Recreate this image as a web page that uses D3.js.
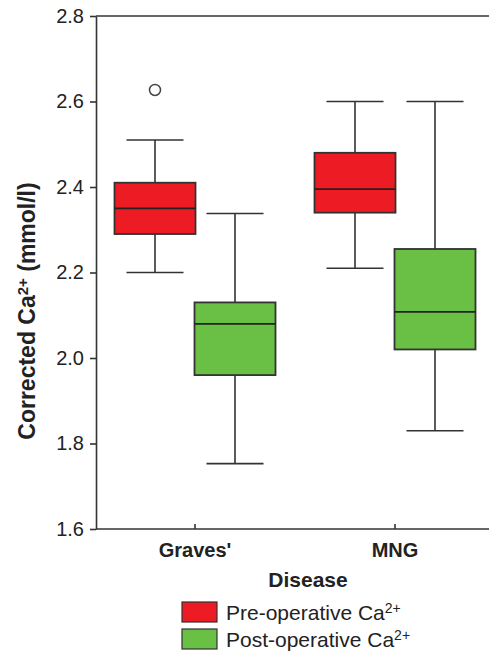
<!DOCTYPE html>
<html>
<head>
<meta charset="utf-8">
<script src="https://cdn.jsdelivr.net/npm/d3@7"></script>
<style>
  body { margin: 0; background: #fff; }
  text { font-family: "Liberation Sans", Arial, sans-serif; fill: #222; }
  .axis path, .axis line { stroke: #333; stroke-width: 1.6; }
  .whisker { stroke: #333; stroke-width: 1.6; }
  .box { stroke: #333; stroke-width: 1.8; }
  .median { stroke: #222; stroke-width: 1.8; }
</style>
</head>
<body>
<div id="chart"></div>
<script>
var w = 489;
var h = 655;

// data
var diseases = ["Graves'", "MNG"];
var groups = ["Pre-operative", "Post-operative"];
var groupColors = ["#ed1c24", "#6abf45"];
var yTicks = [1.6, 1.8, 2.0, 2.2, 2.4, 2.6, 2.8];

var preStats = [
  {low: 2.20, q1: 2.29, median: 2.35, q3: 2.41, high: 2.51},
  {low: 2.21, q1: 2.34, median: 2.395, q3: 2.48, high: 2.60}
];
var postStats = [
  {low: 1.753, q1: 1.96, median: 2.08, q3: 2.13, high: 2.338},
  {low: 1.83, q1: 2.02, median: 2.108, q3: 2.255, high: 2.60}
];
var outliers = [{disease: "Graves'", group: 0, value: 2.627}];

var plotLeft = 96, plotRight = 520, plotTop = 16, plotBottom = 529;

var svg = d3.select("#chart")
  .append("svg")
  .attr("width", w)
  .attr("height", h);

var yScale = d3.scaleLinear()
  .domain([1.6, 2.8])
  .range([plotBottom, plotTop]);

var xScale = d3.scaleBand()
  .domain(diseases)
  .range([95, 495]);

var groupScale = d3.scaleBand()
  .domain([0, 1])
  .range([20, 180]);

// top frame line
svg.append("line")
  .attr("x1", plotLeft).attr("x2", plotRight)
  .attr("y1", yScale(2.8)).attr("y2", yScale(2.8))
  .attr("stroke", "#333").attr("stroke-width", 1.6);

var yAxis = d3.axisLeft(yScale)
  .tickValues(yTicks)
  .tickFormat(d3.format(".1f"))
  .tickSize(6)
  .tickSizeOuter(0)
  .tickPadding(6);

var yG = svg.append("g")
  .attr("class", "axis")
  .attr("transform", "translate(" + plotLeft + ",0)")
  .call(yAxis);
yG.selectAll("text").style("font-size", "20px");

var xAxis = d3.axisBottom(xScale)
  .tickSize(5)
  .tickSizeOuter(0)
  .tickPadding(10);

var xG = svg.append("g")
  .attr("class", "axis")
  .attr("transform", "translate(0," + plotBottom + ")")
  .call(xAxis);
xG.select("path.domain").attr("d", "M" + plotLeft + ",0H" + plotRight);
xG.selectAll(".tick line").attr("y2", -5);
xG.selectAll("text")
  .style("font-size", "20px")
  .style("font-weight", "bold")
  .attr("y", 28)
  .attr("dy", 0);

// boxes
var allStats = [];
diseases.forEach(function(d, i) {
  allStats.push({disease: d, group: 0, s: preStats[i]});
  allStats.push({disease: d, group: 1, s: postStats[i]});
});

var boxW = 81, capW = 57;

var g = svg.selectAll(".boxplot")
  .data(allStats)
  .enter()
  .append("g")
  .attr("class", "boxplot")
  .attr("transform", function(d) {
    var cx = xScale(d.disease) + groupScale(d.group) + groupScale.bandwidth() / 2;
    return "translate(" + cx + ",0)";
  });

g.append("line").attr("class", "whisker")
  .attr("x1", 0).attr("x2", 0)
  .attr("y1", function(d) { return yScale(d.s.high); })
  .attr("y2", function(d) { return yScale(d.s.low); });

g.append("line").attr("class", "whisker")
  .attr("x1", -capW / 2).attr("x2", capW / 2)
  .attr("y1", function(d) { return yScale(d.s.high); })
  .attr("y2", function(d) { return yScale(d.s.high); });

g.append("line").attr("class", "whisker")
  .attr("x1", -capW / 2).attr("x2", capW / 2)
  .attr("y1", function(d) { return yScale(d.s.low); })
  .attr("y2", function(d) { return yScale(d.s.low); });

g.append("rect").attr("class", "box")
  .attr("x", -boxW / 2)
  .attr("width", boxW)
  .attr("y", function(d) { return yScale(d.s.q3); })
  .attr("height", function(d) { return yScale(d.s.q1) - yScale(d.s.q3); })
  .attr("fill", function(d) { return groupColors[d.group]; });

g.append("line").attr("class", "median")
  .attr("x1", -boxW / 2).attr("x2", boxW / 2)
  .attr("y1", function(d) { return yScale(d.s.median); })
  .attr("y2", function(d) { return yScale(d.s.median); });

svg.selectAll(".outlier")
  .data(outliers)
  .enter()
  .append("circle")
  .attr("class", "outlier")
  .attr("cx", function(d) { return xScale(d.disease) + groupScale(d.group) + groupScale.bandwidth() / 2; })
  .attr("cy", function(d) { return yScale(d.value); })
  .attr("r", 5.5)
  .attr("fill", "none")
  .attr("stroke", "#444")
  .attr("stroke-width", 1.5);

// axis titles
svg.append("text")
  .attr("x", (plotLeft + plotRight) / 2)
  .attr("y", 587)
  .attr("text-anchor", "middle")
  .style("font-size", "21px")
  .style("font-weight", "bold")
  .text("Disease");

var yTitle = svg.append("text")
  .attr("transform", "translate(35,311) rotate(-90)")
  .attr("text-anchor", "middle")
  .style("font-size", "23px")
  .style("font-weight", "bold");
yTitle.append("tspan").text("Corrected Ca");
yTitle.append("tspan").attr("dy", "-0.5em").style("font-size", "15px").text("2+");
yTitle.append("tspan").attr("dy", "0.33em").text(" (mmol/l)");

// legend
var legend = svg.selectAll(".legend")
  .data(groups)
  .enter()
  .append("g")
  .attr("class", "legend")
  .attr("transform", function(d, i) { return "translate(182," + (602 + i * 27) + ")"; });

legend.append("rect")
  .attr("width", 35)
  .attr("height", 20)
  .attr("fill", function(d, i) { return groupColors[i]; })
  .attr("stroke", "#333")
  .attr("stroke-width", 1.2);

var lt = legend.append("text")
  .attr("x", 44)
  .attr("y", 18)
  .style("font-size", "21px");
lt.append("tspan").text(function(d) { return d + " Ca"; });
lt.append("tspan").attr("dy", "-0.5em").style("font-size", "14px").text("2+");
</script>
</body>
</html>
